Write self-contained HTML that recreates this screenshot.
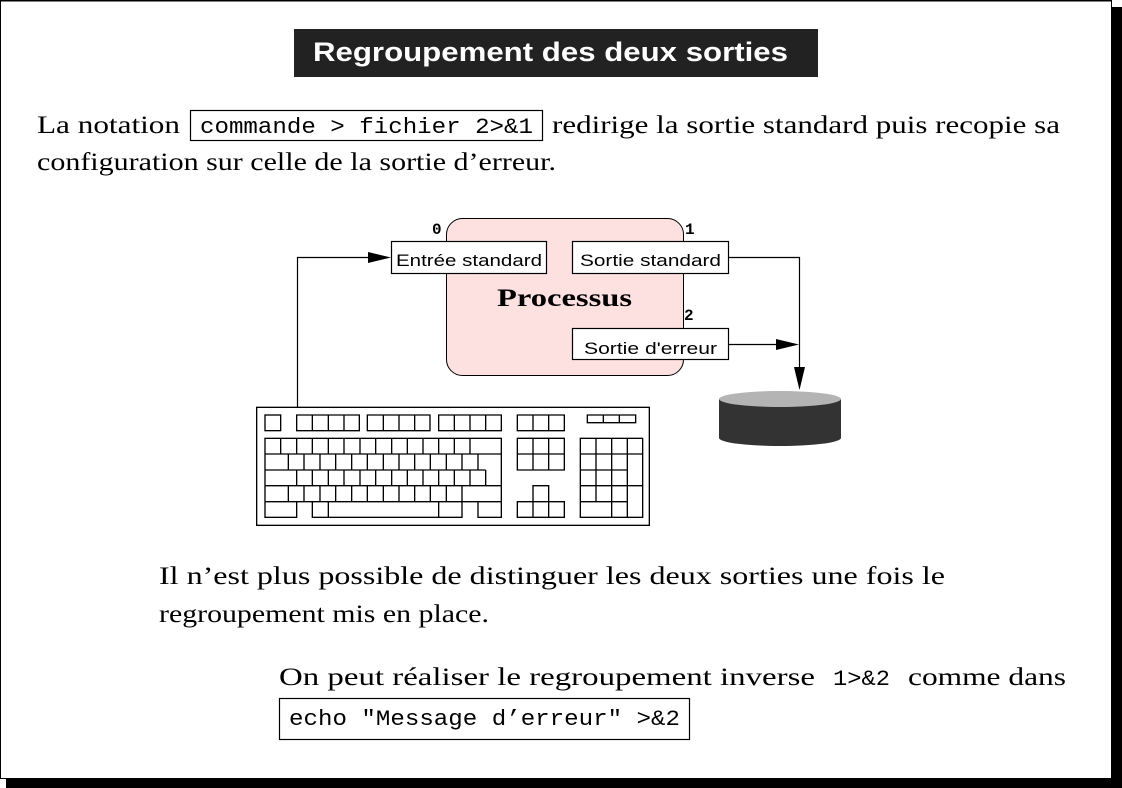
<!DOCTYPE html>
<html><head><meta charset="utf-8"><style>
html,body{margin:0;padding:0;background:#fff;}
svg{display:block;}
.s{font-family:"Liberation Serif",serif;font-size:25px;fill:#000;}
.m{font-family:"Liberation Mono",monospace;font-size:22px;fill:#000;}
.h{font-family:"Liberation Sans",sans-serif;font-size:17px;fill:#000;}
</style></head><body>
<svg width="1122" height="788" viewBox="0 0 1122 788" xmlns="http://www.w3.org/2000/svg">
<rect x="0" y="0" width="1122" height="788" fill="#fff"/>
<rect x="0" y="0" width="1112" height="1.5" fill="#000"/>
<rect x="0" y="0" width="1" height="779" fill="#000"/>
<rect x="1112" y="7" width="10" height="781" fill="#000"/>
<rect x="6" y="779" width="1116" height="9" fill="#000"/>
<rect x="1111" y="0" width="1" height="779" fill="#000"/>
<rect x="0" y="778" width="1112" height="1" fill="#000"/>

<rect x="294" y="29" width="524" height="48" fill="#222"/>
<text x="313" y="61" textLength="475" lengthAdjust="spacingAndGlyphs" font-family="Liberation Sans, sans-serif" font-weight="bold" font-size="27" fill="#fff">Regroupement des deux sorties</text>

<text class="s" x="37" y="133" textLength="143" lengthAdjust="spacingAndGlyphs">La notation</text>
<rect x="190.5" y="110.5" width="352" height="30" fill="none" stroke="#000" stroke-width="1.2"/>
<text class="m" x="200" y="133" textLength="333" lengthAdjust="spacingAndGlyphs">commande &gt; fichier 2&gt;&amp;1</text>
<text class="s" x="552" y="133" textLength="508" lengthAdjust="spacingAndGlyphs">redirige la sortie standard puis recopie sa</text>
<text class="s" x="37" y="170" textLength="519" lengthAdjust="spacingAndGlyphs">configuration sur celle de la sortie d’erreur.</text>

<rect x="446.5" y="218.5" width="237" height="157" rx="16" ry="16" fill="#fde1e1" stroke="#000" stroke-width="1"/>
<rect x="391.5" y="241.5" width="155" height="32" fill="#fff" stroke="#000" stroke-width="1.2"/>
<text class="h" x="396" y="266" textLength="146" lengthAdjust="spacingAndGlyphs">Entrée standard</text>
<rect x="572.5" y="241.5" width="156" height="32" fill="#fff" stroke="#000" stroke-width="1.2"/>
<text class="h" x="580" y="266" textLength="141" lengthAdjust="spacingAndGlyphs">Sortie standard</text>
<rect x="572.5" y="328.5" width="156" height="31" fill="#fff" stroke="#000" stroke-width="1.2"/>
<text class="h" x="584" y="354" textLength="133" lengthAdjust="spacingAndGlyphs">Sortie d'erreur</text>
<text x="497" y="306" font-family="Liberation Serif, serif" font-weight="bold" font-size="25" textLength="135" lengthAdjust="spacingAndGlyphs">Processus</text>
<text x="432" y="234" font-family="Liberation Mono, monospace" font-weight="bold" font-size="16">0</text>
<text x="685" y="234" font-family="Liberation Mono, monospace" font-weight="bold" font-size="16">1</text>
<text x="684" y="320" font-family="Liberation Mono, monospace" font-weight="bold" font-size="16">2</text>

<g stroke="#000" stroke-width="1.2" fill="none">
<polyline points="297.5,407 297.5,257.5 372,257.5"/>
<polyline points="729,257.5 799.5,257.5 799.5,370"/>
<line x1="729" y1="344.5" x2="778" y2="344.5"/>
</g>
<polygon points="391,257.5 368,252 368,263" fill="#000"/>
<polygon points="799,344.5 776,339 776,350" fill="#000"/>
<polygon points="799.5,390 794,367 805,367" fill="#000"/>

<path d="M719,399 L719,438 A61,8 0 0 0 841,438 L841,399 Z" fill="#333"/>
<ellipse cx="780" cy="399" rx="61" ry="8" fill="#b4b4b4"/>

<g transform="translate(250,400) scale(0.33333)" fill="none" stroke="#000" stroke-width="4">
<rect x="20" y="22" width="1178" height="354"/>
<rect x="45" y="45" width="47" height="47"/>
<path d="M140,45H328V92H140Z M187,45V92 M235,45V92 M282,45V92"/>
<path d="M352,45H540V92H352Z M400,45V92 M447,45V92 M494,45V92"/>
<path d="M566,45H754V92H566Z M613,45V92 M660,45V92 M707,45V92"/>
<path d="M802,45H943V92H802Z M849,45V92 M896,45V92"/>
<path d="M1012,45H1157V68H1012Z M1060,45V68 M1108,45V68"/>
<rect x="45" y="115" width="709" height="237"/>
<path d="M45,162H754 M45,210H707 M45,257H754 M45,305H754"/>
<path d="M92,115V162 M140,115V162 M187,115V162 M235,115V162 M282,115V162 M330,115V162 M377,115V162 M425,115V162 M472,115V162 M519,115V162 M566,115V162 M613,115V162 M660,115V162"/>
<path d="M115,162V210 M162,162V210 M210,162V210 M257,162V210 M305,162V210 M352,162V210 M400,162V210 M447,162V210 M494,162V210 M541,162V210 M589,162V210 M636,162V210 M684,162V210"/>
<path d="M140,210V257 M187,210V257 M235,210V257 M282,210V257 M330,210V257 M377,210V257 M425,210V257 M472,210V257 M519,210V257 M566,210V257 M613,210V257 M660,210V257 M707,210V257"/>
<path d="M115,257V305 M162,257V305 M210,257V305 M257,257V305 M305,257V305 M352,257V305 M400,257V305 M447,257V305 M494,257V305 M541,257V305 M589,257V305 M636,257V305"/>
<path d="M140,305V352 M187,305V352 M235,305V352 M566,305V352 M636,305V352 M684,305V352"/>
<path d="M802,115H943V210H802Z M802,162H943 M849,115V210 M896,115V210"/>
<path d="M849,257H896V305H849Z M802,305H943V352H802Z M849,305V352 M896,305V352"/>
<rect x="991" y="115" width="187" height="237"/>
<path d="M991,162H1178 M991,210H1132 M991,257H1178 M991,305H1132"/>
<path d="M1038,115V305 M1085,115V352 M1132,115V352"/>
</g>
<g transform="translate(250,400) scale(0.33333)" stroke="#fff" stroke-width="5">
<line x1="142" y1="352" x2="185" y2="352"/>
<line x1="638" y1="352" x2="682" y2="352"/>
</g>

<text class="s" x="159" y="584" textLength="786" lengthAdjust="spacingAndGlyphs">Il n’est plus possible de distinguer les deux sorties une fois le</text>
<text class="s" x="159" y="622" textLength="330" lengthAdjust="spacingAndGlyphs">regroupement mis en place.</text>

<text class="s" x="279" y="685" textLength="536" lengthAdjust="spacingAndGlyphs">On peut réaliser le regroupement inverse</text>
<text class="m" x="833" y="685" textLength="57" lengthAdjust="spacingAndGlyphs">1&gt;&amp;2</text>
<text class="s" x="908" y="685" textLength="158" lengthAdjust="spacingAndGlyphs">comme dans</text>
<rect x="279.5" y="698.5" width="410" height="41" fill="none" stroke="#000" stroke-width="1.2"/>
<text class="m" x="289" y="725" textLength="391" lengthAdjust="spacingAndGlyphs">echo "Message d’erreur" &gt;&amp;2</text>
</svg>
</body></html>
